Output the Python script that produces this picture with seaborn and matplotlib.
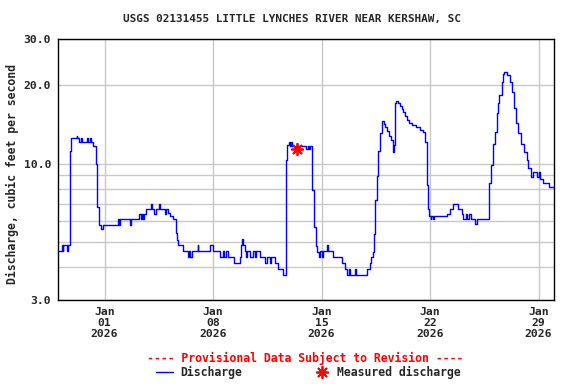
import numpy as np
import pandas as pd
import matplotlib
matplotlib.use("Agg")
import matplotlib.pyplot as plt
import matplotlib.ticker as mticker
from matplotlib.lines import Line2D
import seaborn as sns

# ── data (hours since 2025-12-29 00:00, cfs) ─────────
start = pd.Timestamp("2025-12-29 00:00")

hours = [
    0, 6, 7, 8.5, 14, 15.5, 18, 20.5, 29, 30, 33, 36, 37, 45, 46, 50, 51, 54, 59, 61, 63, 64, 66, 70,
    93, 94, 96, 111, 113, 126, 128.5, 130, 132, 133, 136, 144, 145.5, 149, 152, 157, 158, 165, 166.5,
    171, 173, 178, 183, 185, 186, 194, 201, 203, 204, 208, 216, 217.5,
    235, 239.5, 251, 255.5, 257, 260, 263, 273, 282, 283, 285, 287, 289, 291, 293, 297, 302, 305, 307,
    313, 321, 324, 329, 330, 336, 341, 348,
    353, 355, 357, 359.5, 361, 362, 384, 387, 389, 390, 394, 397, 399, 400.5, 403.5, 406, 408, 410,
    416, 418.5, 426, 440, 444, 447.5, 450.5, 452, 460, 461, 479, 483, 485, 487, 489, 491, 493.5, 496, 498.5,
    502, 505, 507, 509, 512.5, 515, 518, 521, 522, 524, 526.5, 529.5, 532, 534.5, 537, 540, 543.5, 547.5,
    555, 560.5, 565.5, 569, 571, 572.5, 574.5, 577, 578, 580.5, 582, 602, 607, 611.5, 619, 625, 627,
    632, 633, 636.5, 640, 646, 648,
    668, 670.5, 674, 676.5, 679, 681, 683, 687, 689, 691, 695, 700, 702.5, 706, 709, 713, 717, 721,
    726, 728, 732, 735, 741, 744, 746, 750.5, 761, 768,
]
cfs = [
    4.62, 4.87, 4.62, 4.87, 4.62, 4.87, 11.2, 12.5, 12.7, 12.5, 12.1, 12.5, 12.1, 12.5, 12.1, 12.5, 12.1,
    11.7, 10.0, 6.84, 6.1, 5.82, 5.6, 5.82,
    6.11, 5.82, 6.11, 5.82, 6.11, 6.39, 6.11, 6.39, 6.11, 6.39, 6.68, 7.0, 6.68, 6.39, 6.68, 7.0, 6.68,
    6.39, 6.68, 6.44, 6.29, 6.11, 5.4, 5.09, 4.87, 4.62, 4.38, 4.62, 4.38, 4.62, 4.87, 4.62,
    4.87, 4.62, 4.38, 4.62, 4.38, 4.62, 4.38, 4.16, 4.38, 4.87, 5.12, 4.87, 4.62, 4.38, 4.62, 4.38, 4.62,
    4.38, 4.62, 4.38, 4.16, 4.38, 4.16, 4.38, 4.16, 3.95, 3.74,
    10.3, 11.8, 12.1, 11.7, 12.1, 11.7, 11.4, 11.7, 11.4, 11.7, 7.92, 5.73, 4.84, 4.6, 4.38, 4.62, 4.38,
    4.62, 4.87, 4.62, 4.38, 4.16, 3.95, 3.74, 3.95, 3.74, 3.95, 3.74, 3.95, 4.16, 4.38, 4.6, 5.36, 7.25,
    8.98, 11.2, 13.05,
    14.6, 14.2, 13.8, 13.3, 12.8, 12.3, 11.1, 11.8, 17.0, 17.3, 17.0, 16.6, 16.2, 15.8, 15.2, 14.7, 14.3,
    14.0, 13.8, 13.5, 13.2, 12.1, 8.27, 6.68, 6.29, 6.11, 6.29, 6.11, 6.29, 6.39, 6.68, 7.0, 6.68, 6.39,
    6.11, 6.39, 6.11, 6.39, 6.11, 5.85, 6.11,
    8.4, 9.87, 11.9, 13.2, 15.6, 17.0, 18.3, 20.6, 22.0, 22.4, 21.8, 20.6, 18.8, 16.3, 14.3, 13.05, 11.9,
    11.1, 10.3, 9.59, 8.9, 9.3, 8.9, 9.3, 8.7, 8.4, 8.11, 8.11,
]

meas_hours = [369.5]
meas_cfs = [11.4]

tick_dates = ["2026-01-01", "2026-01-08", "2026-01-15", "2026-01-22", "2026-01-29"]
tick_labels = ["Jan\n01\n2026", "Jan\n08\n2026", "Jan\n15\n2026", "Jan\n22\n2026", "Jan\n29\n2026"]
y_major = [3, 10, 20, 30]
y_major_labels = ["3.0", "10.0", "20.0", "30.0"]
y_minor = [4, 5, 6, 7, 8, 9]

TITLE = "USGS 02131455 LITTLE LYNCHES RIVER NEAR KERSHAW, SC"
BLUE = "#0000ff"
RED = "#ff0000"
GRID = "#c8c8c8"
STAR = (8, 2, 0)

sns.set_style("white")
plt.rcParams["font.family"] = ["DejaVu Sans Mono"]
plt.rcParams["font.weight"] = "bold"

df = pd.DataFrame({"time": start + pd.to_timedelta(hours, unit="h"), "cfs": cfs})
meas = pd.DataFrame({"time": start + pd.to_timedelta(meas_hours, unit="h"), "cfs": meas_cfs})

fig = plt.figure(figsize=(5.76, 3.84), dpi=100)
ax = fig.add_axes([58 / 576, 84 / 384, 496 / 576, 261 / 384])

sns.lineplot(data=df, x="time", y="cfs", drawstyle="steps-post", color=BLUE,
             linewidth=1.0, estimator=None, ax=ax, zorder=3)
ax.plot(meas["time"], meas["cfs"], linestyle="none", marker=STAR,
        color=RED, markersize=9, markeredgewidth=1.3, zorder=4)

ax.set_yscale("log")
ax.set_ylim(3, 30)
ax.set_xlim(start, start + pd.Timedelta(days=32))

ax.set_yticks(y_major)
ax.set_yticklabels(y_major_labels)
ax.set_yticks(y_minor, minor=True)
ax.yaxis.set_minor_formatter(mticker.NullFormatter())
ax.set_xticks(pd.to_datetime(tick_dates))
ax.set_xticklabels(tick_labels, linespacing=1.15)

ax.grid(True, which="both", axis="y", color=GRID, linewidth=1)
ax.grid(True, which="major", axis="x", color=GRID, linewidth=1)
ax.set_axisbelow(True)
ax.tick_params(which="both", length=0, labelsize=8.2, pad=5)
for sp in ax.spines.values():
    sp.set_color("black")
    sp.set_linewidth(1)
ax.set_xlabel("")
ax.set_ylabel("")

fig.text(0.507, 1 - 19 / 384, TITLE, ha="center", va="center", fontsize=7.9, weight="bold")
fig.text(12 / 576, 1 - 174.5 / 384, "Discharge, cubic feet per second", rotation=90,
         ha="center", va="center", fontsize=8.3, weight="bold")

fig.text(305 / 576, 1 - 358 / 384, "---- Provisional Data Subject to Revision ----",
         ha="center", va="center", color=RED, fontsize=8.3, weight="bold")
ly = 1 - 372 / 384
fig.add_artist(Line2D([156 / 576, 173 / 576], [ly, ly], color=BLUE, linewidth=1.0,
                      transform=fig.transFigure))
fig.text(180 / 576, ly, "Discharge", ha="left", va="center", fontsize=8.3, weight="bold")
fig.add_artist(Line2D([321.7 / 576], [ly], linestyle="none", marker=STAR, color=RED,
                      markersize=9, markeredgewidth=1.3, transform=fig.transFigure))
fig.text(336.7 / 576, ly, "Measured discharge", ha="left", va="center", fontsize=8.3, weight="bold")

fig.savefig("out.png", dpi=100)
